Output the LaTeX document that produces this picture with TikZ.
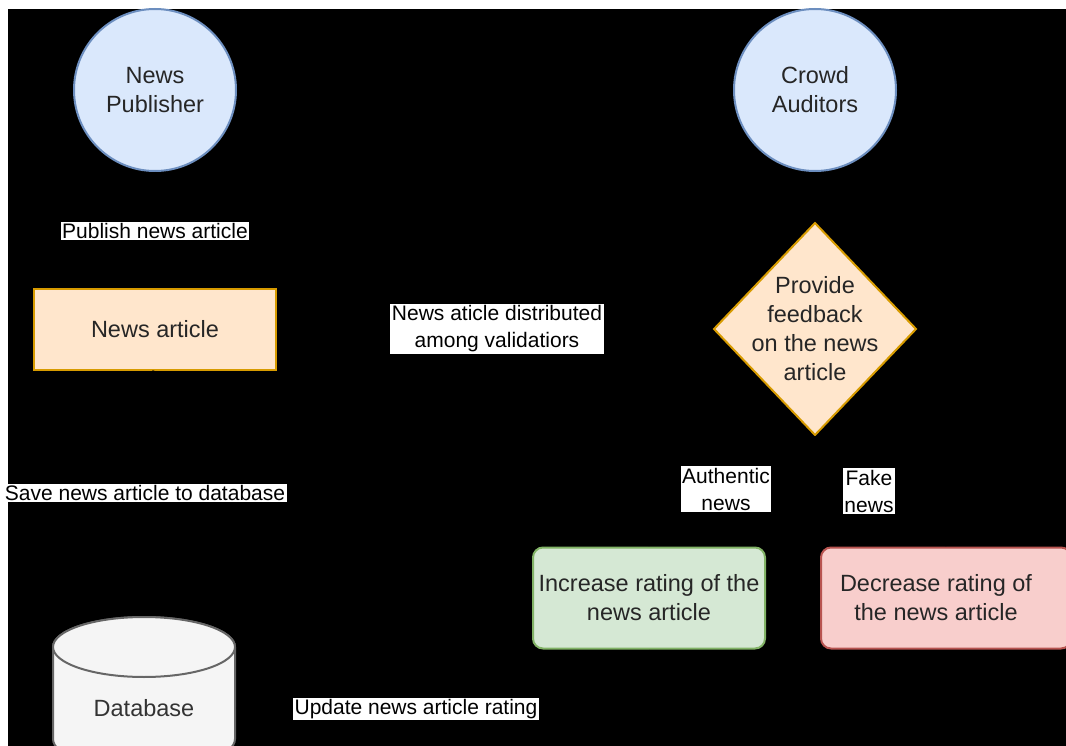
\documentclass[tikz,border=0pt]{standalone}
\usepackage{fontspec}
\setmainfont{Liberation Sans}
\usetikzlibrary{arrows.meta}

\definecolor{actorFill}{HTML}{DAE8FC}
\definecolor{actorLine}{HTML}{6C8EBF}
\definecolor{itemFill}{HTML}{FFE6CC}
\definecolor{itemLine}{HTML}{D79B00}
\definecolor{goodFill}{HTML}{D5E8D4}
\definecolor{goodLine}{HTML}{82B366}
\definecolor{badFill}{HTML}{F8CECC}
\definecolor{badLine}{HTML}{B85450}
\definecolor{dbFill}{HTML}{F5F5F5}
\definecolor{dbLine}{HTML}{666666}
\definecolor{dbText}{HTML}{333333}

\newcommand{\shapefont}{\fontsize{23.5}{29}\selectfont}
\newcommand{\lblfont}{\fontsize{21}{27}\selectfont}

\tikzset{every picture/.style={line width=2pt}}
\tikzset{
  actor/.style={circle, draw=actorLine, fill=actorFill, minimum size=162pt, inner sep=0pt, font=\shapefont, align=center, text=black!85},
  item/.style={rectangle, draw=itemLine, fill=itemFill, minimum width=242pt, minimum height=81pt, font=\shapefont, text=black!85},
  rating/.style={rectangle, rounded corners=10pt, minimum width=232pt, minimum height=101pt, font=\shapefont, align=center, text=black!85},
  edgelbl/.style={fill=white, inner sep=1.5pt, font=\lblfont, align=center, text=black},
  conn/.style={draw=black, -{Triangle[length=10pt,width=10pt]}},
}

\begin{document}
\begin{tikzpicture}[x=1pt,y=1pt,yscale=-1,xscale=1]
\useasboundingbox (0,0) rectangle (1066,746);
\fill [white] (0,0) rectangle (1066,746);
\fill [black] (8,9) rectangle (1066,746);

%Shape: Circle
\node [actor] (pub) at (155,90) {News\\Publisher};
%Shape: Circle
\node [actor] (crowd) at (815,90) {Crowd\\Auditors};
%Shape: Rectangle
\node [item] (art) at (155,329) {News article};
%Shape: Diamond
\draw [draw=itemLine, fill=itemFill] (815,223) -- (916,329) -- (815,435) -- (714,329) -- cycle ;
\node [font=\shapefont, align=center, text=black!85, minimum width=202pt, minimum height=212pt] (fb) at (815,329) {Provide\\feedback\\on the news\\article};
%Shape: Rounded Rectangle
\node [rating, draw=goodLine, fill=goodFill] (inc) at (649,598) {Increase rating of the\\news article};
%Shape: Rounded Rectangle
\begin{scope}
\clip (8,9) rectangle (1066,746);
\node [rating, draw=badLine, fill=badFill, minimum width=250pt] (dec) at (946,598) {};
\end{scope}
\node [font=\shapefont, align=center, text=black!85] at (936,598) {Decrease rating of\\the news article};
%Shape: Cylinder
\begin{scope}
\clip (8,9) rectangle (1066,746);
\draw [draw=dbLine, fill=dbFill] (53,647) arc (180:360:91 and 30) -- (235,739) arc (0:180:91 and 30) -- cycle ;
\draw [draw=dbLine, fill=dbFill] (144,647) ellipse (91 and 30);
\end{scope}
\coordinate (dbtop) at (144,616);
\node [font=\shapefont, text=dbText, minimum width=182pt, minimum height=60pt] (db) at (144,708) {Database};

%Connectors
\draw [conn] (pub) -- (art);
\draw [conn] (art) -- (fb.west);
\draw [conn] (art) -- (dbtop);
\draw [conn] (crowd) -- (fb.north);
\draw [conn] (fb.south) |- (649,489) -- (inc.north);
\draw [conn] (fb.south) |- (936,491) -- (dec.north);
\draw [conn] (inc.south) |- (db.east);

% Text Node
\node [edgelbl] (l1) at (155,231) {Publish news article};
% Text Node
\node [edgelbl] (l2) at (497,329) {News aticle distributed\\ among validatiors};
% Text Node
\node [edgelbl] (l3) at (145,493) {Save news article to database};
% Text Node
\node [edgelbl] (l4) at (726,489) {Authentic\\news};
% Text Node
\node [edgelbl] (l5) at (869,491) {Fake\\news};
% Text Node
\node [edgelbl] (l6) at (416,709) {Update news article rating};

\end{tikzpicture}
\end{document}
